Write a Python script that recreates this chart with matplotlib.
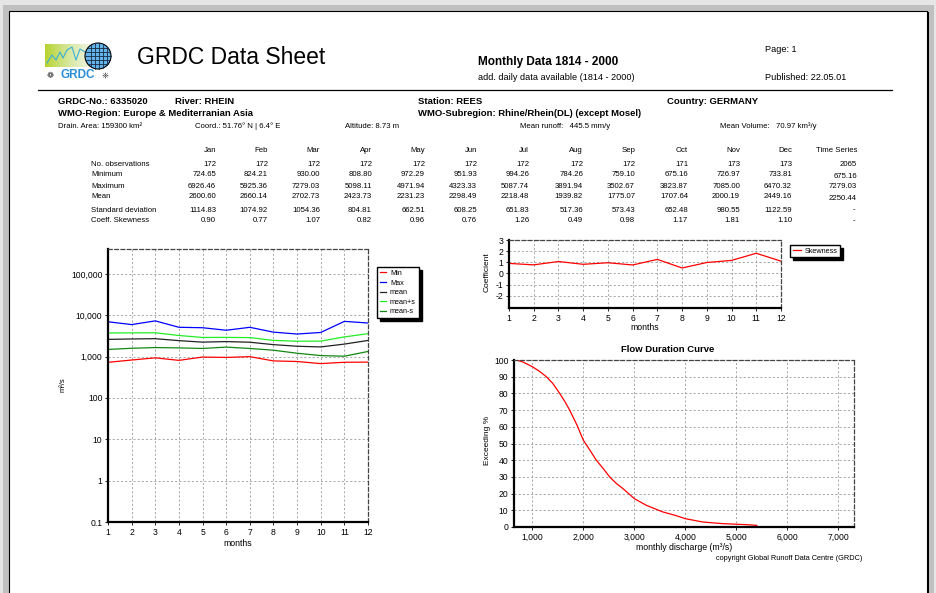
import numpy as np
import matplotlib
matplotlib.use("Agg")
import matplotlib.pyplot as plt
from matplotlib.patches import Rectangle, Circle
from matplotlib.ticker import FuncFormatter, FixedLocator, NullLocator

plt.rcParams['font.family'] = ['Liberation Sans', 'DejaVu Sans']
plt.rcParams['axes.unicode_minus'] = False

W, H = 936, 593

# ---- data ----
months = list(range(1, 13))
month_names = ["Jan", "Feb", "Mar", "Apr", "May", "Jun",
               "Jul", "Aug", "Sep", "Oct", "Nov", "Dec"]
n_obs = [172, 172, 172, 172, 172, 172, 172, 172, 172, 171, 173, 173]
minimum = [724.65, 824.21, 930.00, 808.80, 972.29, 951.93,
           994.26, 784.26, 759.10, 675.16, 726.97, 733.81]
maximum = [6926.46, 5925.36, 7279.03, 5098.11, 4971.94, 4323.33,
           5087.74, 3891.94, 3502.67, 3823.87, 7085.00, 6470.32]
mean = [2600.60, 2660.14, 2702.73, 2423.73, 2231.23, 2298.49,
        2218.48, 1939.82, 1775.07, 1707.64, 2000.19, 2449.16]
std_dev = [1114.83, 1074.92, 1054.36, 804.81, 662.51, 608.25,
           651.83, 517.36, 573.43, 652.48, 980.55, 1122.59]
skewness = [0.90, 0.77, 1.07, 0.82, 0.96, 0.76,
            1.26, 0.49, 0.98, 1.17, 1.81, 1.10]
series_col = ["2065", "675.16", "7279.03", "2250.44", "-", "-"]

mean_plus_s = [m + s for m, s in zip(mean, std_dev)]
mean_minus_s = [m - s for m, s in zip(mean, std_dev)]

# flow duration curve (discharge m3/s, exceeding %)
fdc_q = [675, 800, 1000, 1150, 1275, 1400, 1536, 1640, 1732, 1876, 2000,
         2130, 2255, 2390, 2516, 2650, 2778, 3000, 3235, 3560, 3800,
         4000, 4340, 4740, 5200, 5400]
fdc_p = [100, 99, 96, 93, 90, 86, 80, 75, 70, 61, 52,
         46, 40, 35, 30, 26, 23, 17, 13, 9, 7,
         5, 3, 2, 1.4, 1]


def fx(x):
    return x / W


def fy(y):
    return 1 - y / H


def add_ax(l, t, r, b):
    return fig.add_axes([fx(l), fy(b), (r - l) / W, (b - t) / H])


def rect(x0, y0, x1, y1, **kw):
    fig.patches.append(Rectangle((fx(x0), fy(y1)), (x1 - x0) / W, (y1 - y0) / H,
                                 transform=fig.transFigure, zorder=-10, **kw))


def txt(x, y, s, **kw):
    kw.setdefault("va", "center")
    fig.text(fx(x), fy(y), s, **kw)


def style_axes(ax):
    for side in ("left", "bottom"):
        ax.spines[side].set_linewidth(1.6)
        ax.spines[side].set_color("black")
    for side in ("top", "right"):
        ax.spines[side].set_linewidth(0.9)
        ax.spines[side].set_color("#444444")
        ax.spines[side].set_linestyle((0, (3, 2)))
    ax.grid(True, color="#9a9a9a", linestyle=(0, (2.5, 2.5)), linewidth=0.6)
    ax.tick_params(labelsize=6.2, length=2.5, width=0.6, pad=1.5)
    ax.set_axisbelow(True)


fig = plt.figure(figsize=(W / 100, H / 100), dpi=100, facecolor="#e6e6e6")

# page frame
rect(3, 5, 934, 600, facecolor="#c0c0c0", edgecolor="none")
rect(926, 12, 929, 600, facecolor="black", edgecolor="none")
rect(9, 11, 926.5, 600, facecolor="white", edgecolor="black", linewidth=0.8)

# ---- logo ----
lg = fig.add_axes([fx(40), fy(84), 75 / W, 44 / H])
lg.set_xlim(40, 115)
lg.set_ylim(84, 40)
lg.axis("off")
grad = np.linspace(0, 1, 60).reshape(1, -1)
lg.imshow(grad, extent=(45, 96, 67, 44), cmap=matplotlib.colors.LinearSegmentedColormap.from_list(
    "g", ["#b7d332", "#d9e9a6", "#f4f6f0"]), aspect="auto", zorder=1)
lg.plot([47, 52, 56, 60, 63, 67, 72, 76, 80, 85, 90],
        [63, 55, 60, 52, 58, 50, 47, 60, 49, 52, 51], color="#3ab0d8", lw=0.8, zorder=2)
globe = Circle((98, 56), 13, facecolor="#63b4e8", edgecolor="black", lw=0.8, zorder=3)
lg.add_patch(globe)
for yy in (48, 52, 56, 60, 64):
    hw = np.sqrt(max(169 - (yy - 56) ** 2, 0))
    lg.plot([98 - hw, 98 + hw], [yy, yy], color="#1a2a44", lw=0.6, zorder=4)
for xx in (91, 95, 99, 103, 107):
    hh = np.sqrt(max(169 - (xx - 98) ** 2, 0))
    lg.plot([xx, xx], [56 - hh, 56 + hh], color="#1a2a44", lw=0.6, zorder=4)
lg.text(78, 75, "GRDC", color="#2a8fd8", fontsize=8.5, fontweight="bold",
        ha="center", va="center", zorder=5)
lg.text(50, 75, "\u2741", color="#333333", fontsize=6, ha="center", va="center",
        family="DejaVu Sans")
lg.text(105, 75, "\u2748", color="#333333", fontsize=6, ha="center", va="center",
        family="DejaVu Sans")

# ---- header ----
txt(137, 58, "GRDC Data Sheet", fontsize=16.5, fontweight="normal")
txt(478, 62, "Monthly Data 1814 - 2000", fontsize=8.5, fontweight="bold")
txt(478, 77, "add. daily data available (1814 - 2000)", fontsize=6.6)
txt(765, 50, "Page: 1", fontsize=6.6)
txt(765, 77, "Published: 22.05.01", fontsize=6.6)
fig.lines.append(plt.Line2D([fx(38), fx(892)], [fy(90), fy(90)],
                            transform=fig.transFigure, color="black", lw=0.9))

bold7 = dict(fontsize=6.8, fontweight="bold")
txt(58, 101, "GRDC-No.: 6335020", **bold7)
txt(175, 101, "River: RHEIN", **bold7)
txt(418, 101, "Station: REES", **bold7)
txt(667, 101, "Country: GERMANY", **bold7)
txt(58, 114, "WMO-Region: Europe & Mediterranian Asia", **bold7)
txt(418, 114, "WMO-Subregion: Rhine/Rhein(DL) (except Mosel)", **bold7)
small = dict(fontsize=5.6)
txt(58, 126, "Drain. Area: 159300 km\u00b2", **small)
txt(195, 126, "Coord.: 51.76\u00b0 N | 6.4\u00b0 E", **small)
txt(345, 127, "Altitude: 8.73 m", **small)
txt(520, 126, "Mean runoff:   445.5 mm/y", **small)
txt(720, 126, "Mean Volume:   70.97 km\u00b3/y", **small)

# ---- statistics table ----
col_right = [216, 268, 320, 372, 425, 477, 529, 583, 635, 688, 740, 792]
row_y = [164, 175, 186, 197, 210, 221]
row_labels = ["No. observations", "Minimum", "Maximum", "Mean",
              "Standard deviation", "Coeff. Skewness"]
tab = dict(fontsize=5.6)
for name, xr in zip(month_names, col_right):
    txt(xr, 151, name, ha="right", **tab)
txt(857, 151, "Time Series", ha="right", **tab)
rows = [[str(v) for v in n_obs],
        [f"{v:.2f}" for v in minimum],
        [f"{v:.2f}" for v in maximum],
        [f"{v:.2f}" for v in mean],
        [f"{v:.2f}" for v in std_dev],
        [f"{v:.2f}" for v in skewness]]
for lab, yy, vals, ts in zip(row_labels, row_y, rows, series_col):
    txt(91, yy, lab, **tab)
    for v, xr in zip(vals, col_right):
        txt(xr, yy, v, ha="right", **tab)
    txt(857 if ts != "-" else 855, yy + (1 if ts != "-" else 0), ts, ha="right", **tab)

# ---- monthly discharge (log) ----
ax1 = add_ax(108, 249, 368, 522)
ax1.plot(months, minimum, color="#ff0000", lw=0.9, label="Min")
ax1.plot(months, maximum, color="#0000ff", lw=0.9, label="Max")
ax1.plot(months, mean, color="#222222", lw=0.9, label="mean")
ax1.plot(months, mean_plus_s, color="#22ee22", lw=0.9, label="mean+s")
ax1.plot(months, mean_minus_s, color="#118811", lw=0.9, label="mean-s")
ax1.set_yscale("log")
ax1.set_ylim(0.1, 10 ** 5.6)
ax1.set_xlim(1, 12)
ax1.yaxis.set_major_locator(FixedLocator([0.1, 1, 10, 100, 1000, 10000, 100000]))
ax1.yaxis.set_minor_locator(NullLocator())
ax1.yaxis.set_major_formatter(FuncFormatter(
    lambda v, p: f"{v:,.0f}" if v >= 1 else f"{v:g}"))
ax1.set_xticks(months)
style_axes(ax1)
txt(238, 543, "months", ha="center", fontsize=6.3)
txt(63, 385, "m\u00b3/s", ha="center", rotation=90, fontsize=5.5)
ax1.legend(loc="upper left", bbox_to_anchor=(fx(377), fy(267)),
           bbox_transform=fig.transFigure, fontsize=5.2, frameon=True,
           fancybox=False, edgecolor="black", framealpha=1,
           shadow={"color": "black", "alpha": 1},
           handlelength=0.9, handletextpad=0.5, labelspacing=0.35,
           borderpad=0.4, borderaxespad=0)

# ---- skewness ----
ax2 = add_ax(509, 240, 781, 308)
ax2.plot(months, skewness, color="#ff0000", lw=0.9, label="Skewness")
ax2.set_xlim(1, 12)
ax2.set_ylim(-3.1, 3)
ax2.set_xticks(months)
ax2.set_yticks([-2, -1, 0, 1, 2, 3])
style_axes(ax2)
txt(645, 327, "months", ha="center", fontsize=6.3)
txt(487, 272, "Coefficient", ha="center", rotation=90, fontsize=6)
ax2.legend(loc="upper left", bbox_to_anchor=(fx(790), fy(245)),
           bbox_transform=fig.transFigure, fontsize=5.2, frameon=True,
           fancybox=False, edgecolor="black", framealpha=1,
           shadow={"color": "black", "alpha": 1},
           handlelength=1.2, handletextpad=0.5, borderpad=0.35, borderaxespad=0)

# ---- flow duration curve ----
ax3 = add_ax(514, 360, 854, 527)
ax3.plot(fdc_q, fdc_p, color="#ff0000", lw=0.9)
ax3.set_xlim(640, 7310)
ax3.set_ylim(0, 100)
ax3.set_xticks([1000, 2000, 3000, 4000, 5000, 6000, 7000])
ax3.set_yticks(range(0, 101, 10))
ax3.xaxis.set_major_formatter(FuncFormatter(lambda v, p: f"{v:,.0f}"))
style_axes(ax3)
txt(668, 350, "Flow Duration Curve", ha="center", fontsize=6.8, fontweight="bold")
txt(684, 547, "monthly discharge (m\u00b3/s)", ha="center", fontsize=6.3)
txt(487, 440, "Exceeding %", ha="center", rotation=90, fontsize=6)
txt(862, 558, "copyright Global Runoff Data Centre (GRDC)", ha="right", fontsize=5.3)

fig.savefig("out.png", dpi=100, facecolor=fig.get_facecolor())
